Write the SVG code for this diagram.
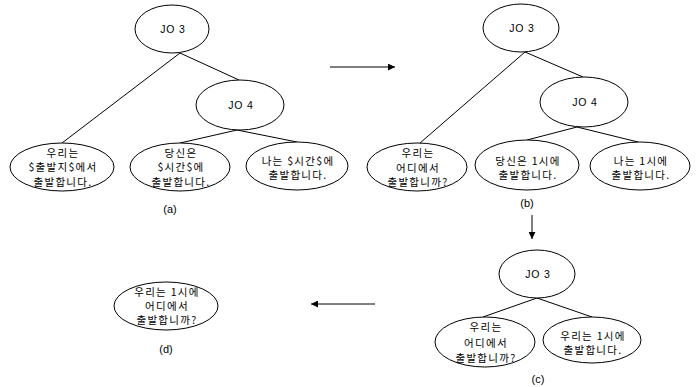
<svg xmlns="http://www.w3.org/2000/svg" width="700" height="387" viewBox="0 0 700 387">
<defs>
<style>
.n{fill:#fff;stroke:#000;stroke-width:1}
.e{stroke:#000;stroke-width:1;fill:none}
.t{font-family:"Liberation Sans","Noto Sans CJK KR",sans-serif;font-size:10.5px;text-anchor:middle;fill:#000;letter-spacing:0.8px}
.k{font-family:"Noto Sans CJK KR","Liberation Sans",sans-serif;font-size:10.5px;text-anchor:middle;fill:#000;letter-spacing:1.3px}
.lb{font-family:"Liberation Sans",sans-serif;font-size:11px;text-anchor:middle;fill:#000}
</style>
<marker id="ah" viewBox="0 0 10 10" refX="10" refY="5" markerWidth="9" markerHeight="7" markerUnits="userSpaceOnUse" orient="auto">
<path d="M0,0 L10,5 L0,10 z" fill="#000"/>
</marker>
</defs>
<g id="connectors">
<line class="e" x1="180" y1="53" x2="239" y2="80"/>
<line class="e" x1="180" y1="53" x2="62" y2="143"/>
<line class="e" x1="237" y1="130" x2="180" y2="143"/>
<line class="e" x1="237" y1="130" x2="297" y2="142"/>
<line class="e" x1="525" y1="52" x2="583" y2="77"/>
<line class="e" x1="525" y1="52" x2="420" y2="143"/>
<line class="e" x1="577" y1="127" x2="527" y2="140"/>
<line class="e" x1="577" y1="127" x2="638" y2="142"/>
<line class="e" x1="537" y1="298" x2="483" y2="317"/>
<line class="e" x1="537" y1="298" x2="592" y2="317"/>
<line class="e" x1="330" y1="67" x2="395" y2="67" marker-end="url(#ah)"/>
<line class="e" x1="532" y1="215" x2="532" y2="239" marker-end="url(#ah)"/>
<line class="e" x1="375" y1="304" x2="311" y2="304" marker-end="url(#ah)"/>
</g>
<g id="a_jo3"><ellipse class="n" cx="172" cy="29" rx="37" ry="24"/><text class="t" x="173" y="33">JO 3</text></g>
<g id="a_jo4"><ellipse class="n" cx="240" cy="105" rx="44" ry="25"/><text class="t" x="241" y="109">JO 4</text></g>
<g id="a_leaf1"><ellipse class="n" cx="62" cy="167" rx="52" ry="24"/>
<text class="k" x="63" y="157">우리는</text><text class="k" x="63" y="171">$출발지$에서</text><text class="k" x="63" y="186">출발합니다.</text></g>
<g id="a_leaf2"><ellipse class="n" cx="180" cy="167" rx="50" ry="24"/>
<text class="k" x="181" y="157">당신은</text><text class="k" x="181" y="171">$시간$에</text><text class="k" x="181" y="186">출발합니다.</text></g>
<g id="a_leaf3"><ellipse class="n" cx="297" cy="166" rx="51" ry="24"/>
<text class="k" x="298" y="165">나는 $시간$에</text><text class="k" x="298" y="179">출발합니다.</text></g>
<text class="lb" x="170" y="213">(a)</text>
<g id="b_jo3"><ellipse class="n" cx="521" cy="28" rx="38" ry="24"/><text class="t" x="522" y="32">JO 3</text></g>
<g id="b_jo4"><ellipse class="n" cx="584" cy="102" rx="44" ry="25"/><text class="t" x="585" y="106">JO 4</text></g>
<g id="b_leaf1"><ellipse class="n" cx="417" cy="167" rx="50" ry="24"/>
<text class="k" x="418" y="157">우리는</text><text class="k" x="418" y="172">어디에서</text><text class="k" x="418" y="186">출발합니까?</text></g>
<g id="b_leaf2"><ellipse class="n" cx="527" cy="165" rx="52" ry="25"/>
<text class="k" x="528" y="165">당신은 1시에</text><text class="k" x="528" y="179">출발합니다.</text></g>
<g id="b_leaf3"><ellipse class="n" cx="640" cy="166" rx="50" ry="24"/>
<text class="k" x="641" y="165">나는 1시에</text><text class="k" x="641" y="179">출발합니다.</text></g>
<text class="lb" x="527" y="207">(b)</text>
<g id="c_jo3"><ellipse class="n" cx="537" cy="274" rx="38" ry="24"/><text class="t" x="538" y="278">JO 3</text></g>
<g id="c_leaf1"><ellipse class="n" cx="485" cy="342" rx="50" ry="25"/>
<text class="k" x="486" y="331">우리는</text><text class="k" x="486" y="347">어디에서</text><text class="k" x="486" y="362">출발합니까?</text></g>
<g id="c_leaf2"><ellipse class="n" cx="592" cy="340" rx="49" ry="23"/>
<text class="k" x="593" y="340">우리는 1시에</text><text class="k" x="593" y="354">출발합니다.</text></g>
<text class="lb" x="538" y="383">(c)</text>
<g id="d_node"><ellipse class="n" cx="166" cy="306" rx="52" ry="24"/>
<text class="k" x="167" y="296">우리는 1시에</text><text class="k" x="167" y="310">어디에서</text><text class="k" x="167" y="324">출발합니까?</text></g>
<text class="lb" x="166" y="353">(d)</text>
</svg>
